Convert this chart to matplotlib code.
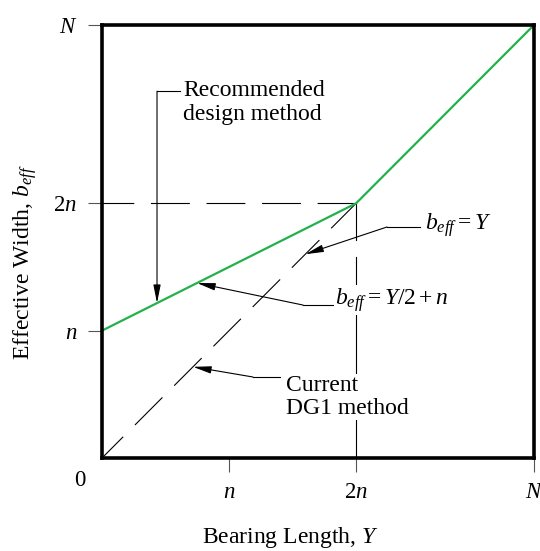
import matplotlib
matplotlib.use("Agg")
import matplotlib.pyplot as plt

# chart values (in units of n)
n = 1.0
N = 3.4
recommended_x = [0, 2 * n, N]
recommended_y = [n, 2 * n, N]
dg1_x = [0, 2 * n]
dg1_y = [0, 2 * n]
tick_vals = [n, 2 * n, N]
tick_labels = ['$n$', '$2n$', '$N$']

plt.rcParams['font.family'] = 'Liberation Serif'
plt.rcParams['mathtext.fontset'] = 'custom'
plt.rcParams['mathtext.rm'] = 'Liberation Serif'
plt.rcParams['mathtext.it'] = 'Liberation Serif:italic'
plt.rcParams['mathtext.bf'] = 'Liberation Serif:bold'

fig = plt.figure(figsize=(5.4, 5.51), dpi=100)
ax = fig.add_axes([102 / 540, 1 - 458 / 551, 432 / 540, 433 / 551])
ax.set_xlim(0, N)
ax.set_ylim(0, N)

green = '#22b14c'
dash = (0, (35, 15))

# guide lines at 2n
ax.plot([2 * n, 0], [2 * n, 2 * n], color='k', lw=0.8, linestyle=dash, zorder=2)
ax.plot([2 * n, 2 * n], [2 * n, 1.71], color='k', lw=0.8, zorder=2)
ax.plot([2 * n, 2 * n], [1.58, 0], color='k', lw=0.8, zorder=2)
# current DG1 method (b_eff = Y)
ax.plot(dg1_x, dg1_y, color='k', lw=0.8, linestyle=(8, (35, 15)), zorder=2)
# recommended method
ax.plot(recommended_x, recommended_y, color=green, lw=1.6, zorder=4, clip_on=False)

for s in ax.spines.values():
    s.set_linewidth(2.6)
    s.set_zorder(5)

ax.set_xticks(tick_vals)
ax.set_xticklabels(tick_labels)
ax.set_yticks(tick_vals)
ax.set_yticklabels(tick_labels)
ax.tick_params(axis='both', direction='out', length=10, width=0.8, color='#555555',
               labelsize=16.5)
ax.tick_params(axis='x', pad=7)
ax.tick_params(axis='y', pad=8)

fig.text(80 / 540, 1 - 480 / 551, '0', fontsize=16.5, ha='center', va='center')
fig.text(290 / 540, 1 - 537 / 551, 'Bearing Length, $Y$', fontsize=17,
         ha='center', va='center')
fig.text(25 / 540, 1 - 262 / 551, 'Effective Width, $b_{eff}$', fontsize=17,
         rotation=90, ha='center', va='center')

arrow = dict(arrowstyle='-|>,head_length=1.1,head_width=0.22', color='k', lw=0.8,
             mutation_scale=10, shrinkA=0, shrinkB=0)
box = dict(facecolor='white', edgecolor='none', pad=0.5)


def leader(x_text, x_knee, y_knee, tip):
    ax.plot([x_text, x_knee], [y_knee, y_knee], color='k', lw=0.8, zorder=3)
    ax.annotate('', xy=tip, xytext=(x_knee, y_knee), arrowprops=arrow, zorder=3)


# Recommended design method
leader(0.614, 0.433, 2.88, (0.433, 0.433 / 2 + n))
ax.text(0.637, 2.79, 'Recommended\ndesign method', fontsize=17, ha='left',
        va='center', linespacing=1.17, bbox=box, zorder=6)

# b_eff = Y
leader(2.50, 2.243, 1.814, (1.60, 1.60))
ax.text(2.54, 1.83, '$b_{eff}=Y$', fontsize=17, ha='left', va='center',
        bbox=box, zorder=6)

# b_eff = Y/2 + n
leader(1.818, 1.582, 1.201, (0.748, 0.748 / 2 + n))
ax.text(1.834, 1.24, '$b_{eff}=Y/2+n$', fontsize=17, ha='left', va='center',
        bbox=box, zorder=6)

# Current DG1 method
leader(1.401, 1.188, 0.636, (0.716, 0.716))
ax.text(1.448, 0.48, 'Current\nDG1 method', fontsize=17, ha='left',
        va='center', linespacing=1.17, bbox=box, zorder=6)

fig.savefig('out.png', dpi=100)
